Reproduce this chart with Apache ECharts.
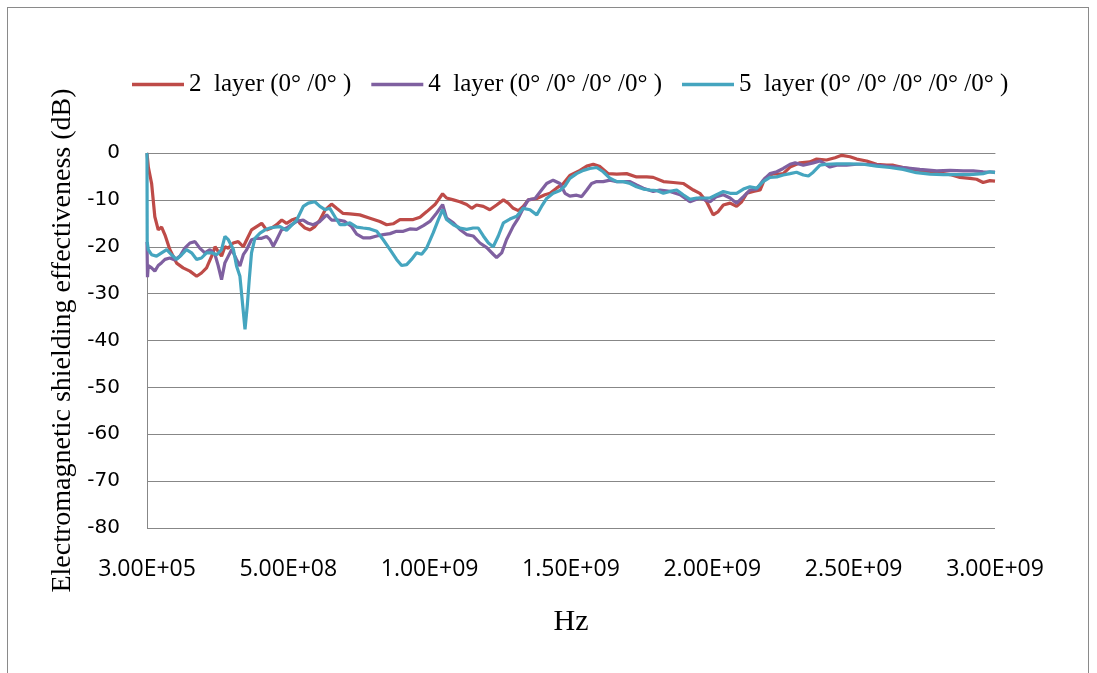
<!DOCTYPE html>
<html>
<head>
<meta charset="utf-8">
<script src="https://cdn.jsdelivr.net/npm/echarts@6/dist/echarts.min.js"></script>
<style>
  html, body { margin: 0; padding: 0; background: #fff; }
  #wrap { position: relative; width: 1097px; height: 673px; overflow: hidden; background: #fff; }
  #frame { position: absolute; left: 7px; top: 7px; width: 1082px; height: 700px; border: 1px solid #8a8a8a; box-sizing: border-box; }
  #chart { position: absolute; left: 0; top: 0; width: 1097px; height: 673px; }
</style>
</head>
<body>
<div id="wrap">
  <div id="frame"></div>
  <div id="chart"></div>
</div>
<script>
// Series names
const seriesNames = ['2  layer (0° /0° )', '4  layer (0° /0° /0° /0° )', '5  layer (0° /0° /0° /0° /0° )'];
// X tick values (Hz) and labels
const xTickValues = [3e5, 5e8, 1e9, 1.5e9, 2e9, 2.5e9, 3e9];
const xTickLabels = ['3.00E+05', '5.00E+08', '1.00E+09', '1.50E+09', '2.00E+09', '2.50E+09', '3.00E+09'];
// Data: [frequency in MHz, shielding effectiveness in dB]
const layer2 = [[0.3,0],[5,-3],[16.6,-6.5],[28,-13.6],[40,-16.4],[52,-15.8],[64,-17.5],[81,-20.6],[105,-23.5],[128,-24.5],[152,-25.2],[176,-26.3],[193,-25.6],[211,-24.5],[229,-22],[241,-20],[252,-21],[264,-22],[276,-20],[288,-20.3],[305,-19.2],[323,-18.9],[341,-20],[353,-18.5],[370,-16.4],[388,-15.7],[406,-15],[423,-16.4],[441,-16],[459,-15.3],[477,-14.3],[494,-15],[512,-14.3],[530,-13.9],[541,-15],[559,-16],[577,-16.4],[594,-15.7],[612,-14.3],[630,-12.2],[653,-10.9],[671,-11.8],[694,-12.9],[718,-13],[753,-13.2],[789,-13.9],[824,-14.6],[848,-15.3],[871,-15.1],[895,-14.2],[919,-14.2],[942,-14.2],[966,-13.7],[990,-12.5],[1019,-11],[1046,-8.7],[1060,-9.6],[1084,-10],[1107,-10.4],[1131,-11],[1149,-11.8],[1166,-11.1],[1190,-11.4],[1213,-12.1],[1237,-11.1],[1261,-10],[1278,-10.7],[1296,-11.8],[1314,-12.3],[1331,-11.4],[1349,-10],[1379,-9.7],[1408,-8.9],[1426,-8.6],[1449,-7.5],[1473,-6.5],[1496,-4.8],[1532,-3.7],[1556,-2.8],[1579,-2.4],[1603,-2.9],[1632,-4.4],[1662,-4.5],[1697,-4.4],[1732,-5.1],[1768,-5.1],[1791,-5.2],[1827,-6.1],[1862,-6.3],[1897,-6.5],[1933,-7.9],[1956,-8.6],[1980,-10.4],[2003,-13.2],[2021,-12.5],[2039,-11.1],[2063,-10.7],[2086,-11.4],[2104,-10.4],[2122,-8.6],[2145,-8.2],[2169,-7.9],[2186,-5.4],[2216,-4.4],[2239,-4.5],[2251,-4.4],[2275,-3],[2310,-2.1],[2345,-1.9],[2369,-1.3],[2404,-1.5],[2434,-1],[2458,-0.5],[2487,-0.8],[2511,-1.3],[2546,-1.7],[2581,-2.4],[2617,-2.6],[2640,-2.6],[2675,-3.1],[2711,-3.5],[2746,-3.8],[2794,-4.2],[2841,-4.6],[2876,-5.2],[2911,-5.4],[2935,-5.6],[2958,-6.3],[2982,-5.9],[3000,-6]];
const layer4 = [[0.3,-19],[2,-26.5],[4.7,-24],[16.5,-24.5],[28,-25.2],[40,-24],[52,-23.4],[64,-22.7],[81,-22.4],[99,-22.8],[117,-22],[134,-20.3],[152,-19.2],[170,-18.9],[187,-20.3],[205,-21.3],[223,-20.6],[241,-21.7],[252,-24],[264,-27],[276,-23.4],[288,-22],[300,-20.6],[317,-22.7],[329,-24.1],[341,-21.7],[353,-20.6],[370,-18.5],[388,-18.2],[406,-18.2],[423,-17.8],[435,-18.5],[447,-19.9],[459,-18.5],[476,-16.4],[494,-16],[512,-15.3],[530,-14.6],[553,-14.3],[571,-15],[588,-15.3],[612,-14.6],[636,-13.2],[653,-14.3],[677,-14.3],[700,-14.6],[724,-15.7],[742,-17.3],[765,-18.1],[789,-18.1],[813,-17.7],[836,-17.4],[860,-17.2],[883,-16.7],[907,-16.7],[930,-16.2],[954,-16.3],[978,-15.5],[1001,-14.6],[1025,-12.8],[1046,-11],[1060,-13.9],[1084,-14.9],[1107,-16.3],[1131,-17.4],[1154,-17.7],[1178,-19.2],[1202,-20.2],[1225,-21.6],[1237,-22.3],[1255,-21.3],[1272,-18.5],[1296,-15.6],[1314,-13.9],[1331,-11.8],[1349,-10],[1373,-9.7],[1396,-7.9],[1414,-6.5],[1437,-5.8],[1461,-6.5],[1479,-8.6],[1496,-9.2],[1520,-9],[1538,-9.3],[1556,-7.9],[1573,-6.5],[1591,-6.1],[1614,-6.1],[1638,-5.8],[1662,-6.1],[1685,-6.1],[1709,-6.1],[1732,-6.8],[1756,-7.5],[1791,-8.2],[1815,-7.9],[1850,-8.2],[1886,-8.9],[1921,-10.4],[1956,-9.6],[1992,-10.4],[2015,-9.3],[2039,-8.9],[2063,-9.6],[2086,-10.7],[2110,-9.3],[2133,-7.9],[2157,-7.7],[2180,-5.8],[2204,-4.4],[2228,-4],[2251,-3.3],[2275,-2.4],[2293,-2.1],[2322,-2.6],[2357,-2.1],[2381,-1.7],[2416,-3],[2440,-2.6],[2475,-2.6],[2511,-2.4],[2546,-2.4],[2581,-2.6],[2617,-2.8],[2675,-3.1],[2734,-3.5],[2794,-3.8],[2841,-3.7],[2888,-3.8],[2923,-3.8],[2958,-4],[3000,-4.1]];
const layer5 = [[0.3,0],[1,-19],[4.7,-20.6],[16.5,-21.7],[34,-22],[52,-21.3],[70,-20.6],[87,-21.7],[105,-22.7],[123,-21.7],[140,-20.6],[158,-21.3],[176,-22.7],[193,-22.4],[211,-21.3],[229,-21.3],[247,-21.7],[264,-20.6],[276,-17.8],[288,-18.5],[306,-20.6],[317,-24.1],[329,-26.3],[339,-32.6],[347,-37.6],[355,-32.6],[362,-27],[370,-21.3],[382,-18.2],[400,-17.1],[418,-16.4],[435,-16],[453,-15.8],[471,-15.7],[494,-16.5],[530,-14.3],[553,-11.4],[571,-10.7],[594,-10.4],[612,-11.4],[630,-12.1],[647,-11.8],[665,-13.6],[683,-15.3],[700,-15.3],[718,-14.9],[742,-15.8],[765,-16],[789,-16.2],[813,-16.7],[836,-18.5],[860,-20.6],[883,-22.7],[901,-24],[919,-23.8],[936,-22.7],[954,-21.3],[972,-21.6],[990,-20.2],[1013,-17],[1031,-14.2],[1046,-12.1],[1060,-14.2],[1084,-15.3],[1107,-16],[1131,-16.3],[1154,-16],[1172,-16],[1190,-17.7],[1208,-19.2],[1225,-20],[1243,-17.7],[1261,-14.9],[1284,-14.1],[1308,-13.5],[1331,-11.8],[1355,-12.1],[1379,-13.2],[1396,-11.4],[1414,-9.7],[1437,-8.6],[1461,-8],[1479,-7],[1496,-5.4],[1520,-4.4],[1544,-3.7],[1567,-3.3],[1591,-3.1],[1614,-4],[1638,-5.4],[1662,-6.1],[1685,-6.1],[1709,-6.5],[1732,-7.2],[1756,-7.7],[1780,-7.9],[1803,-8],[1827,-8.6],[1850,-8.2],[1874,-7.9],[1897,-8.9],[1921,-9.9],[1945,-9.6],[1968,-9.6],[1992,-9.6],[2015,-8.9],[2039,-8.2],[2063,-8.6],[2086,-8.6],[2110,-7.7],[2133,-7.2],[2157,-7.5],[2180,-6.1],[2204,-5.2],[2228,-5.1],[2251,-4.7],[2275,-4.4],[2298,-4.1],[2322,-4.7],[2340,-4.9],[2357,-4.1],[2381,-2.6],[2404,-2.4],[2440,-2.3],[2487,-2.3],[2534,-2.4],[2581,-2.8],[2628,-3.1],[2675,-3.5],[2722,-4.2],[2770,-4.5],[2817,-4.6],[2864,-4.6],[2911,-4.6],[2958,-4.4],[2982,-4],[3000,-4.2]];

const colors = ['#BE4B48', '#7F60A0', '#45A5BF'];
const toHz = arr => arr.map(p => [p[0] * 1e6, p[1]]);
const gridColor = '#878787';

const chart = echarts.init(document.getElementById('chart'), null, { renderer: 'canvas' });
chart.setOption({
  animation: false,
  backgroundColor: 'transparent',
  color: colors,
  grid: { left: 147, right: 102, top: 153, bottom: 145, containLabel: false },
  legend: {
    left: 127, top: 67,
    icon: 'rect', itemWidth: 52, itemHeight: 3.5, itemGap: 20,
    textStyle: { fontFamily: 'Liberation Serif', fontSize: 25, color: '#000' },
    data: seriesNames
  },
  xAxis: {
    type: 'value',
    min: 3e5, max: 3e9,
    name: 'Hz', nameLocation: 'middle', nameGap: 79,
    nameTextStyle: { fontFamily: 'Liberation Serif', fontSize: 30, color: '#000' },
    axisLine: { show: true, lineStyle: { color: gridColor, width: 1 } },
    axisTick: { show: false, customValues: xTickValues },
    splitLine: { show: false },
    axisLabel: {
      customValues: xTickValues,
      margin: 30,
      fontFamily: 'Open Sans', fontSize: 23, color: '#000',
      showMinLabel: true, showMaxLabel: true,
      formatter: v => {
        const i = xTickValues.indexOf(v);
        return i >= 0 ? xTickLabels[i] : '';
      }
    }
  },
  yAxis: {
    type: 'value',
    min: -80, max: 0, interval: 10,
    name: 'Electromagnetic shielding effectiveness (dB)',
    nameLocation: 'middle', nameGap: 66,
    nameTextStyle: { fontFamily: 'Liberation Serif', fontSize: 28, color: '#000' },
    axisLine: { show: true, lineStyle: { color: gridColor, width: 1 } },
    axisTick: { show: false },
    splitLine: { show: true, lineStyle: { color: gridColor, width: 1 } },
    axisLabel: { margin: 27, fontFamily: 'DejaVu Sans', fontSize: 20, color: '#000' }
  },
  series: [layer2, layer4, layer5].map((d, i) => ({
    name: seriesNames[i],
    type: 'line',
    data: toHz(d),
    showSymbol: false,
    symbol: 'none',
    lineStyle: { width: 3.2, color: colors[i] },
    itemStyle: { color: colors[i] },
    z: 2 + i
  }))
});
</script>
</body>
</html>
